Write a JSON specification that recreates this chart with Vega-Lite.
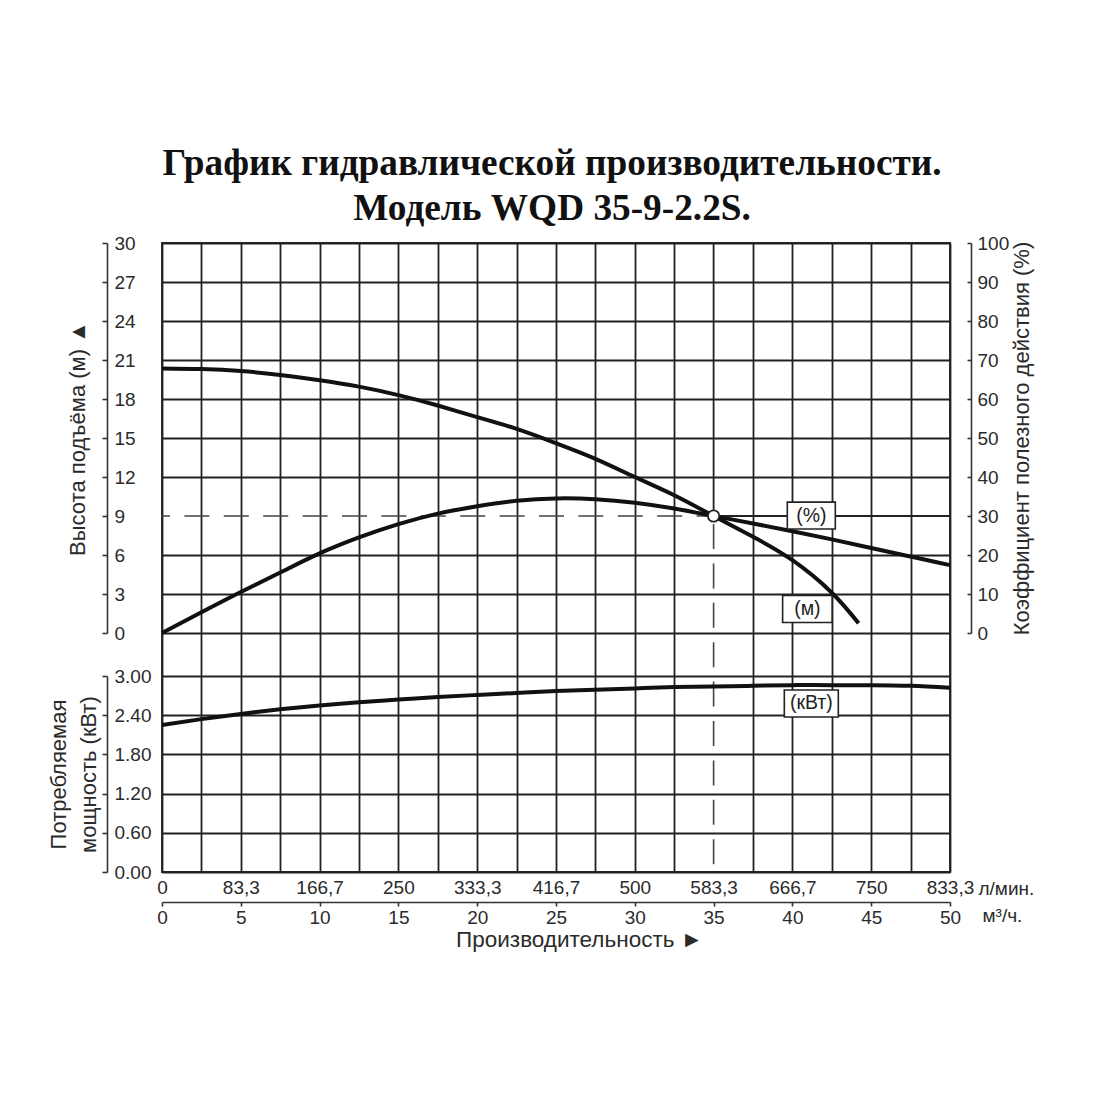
{
  "$schema": "https://vega.github.io/schema/vega-lite/v6.json",
  "width": 788,
  "height": 629,
  "autosize": {"type": "none"},
  "padding": {"left": 162, "top": 243, "right": 150, "bottom": 228},
  "background": "white",
  "title": {
    "text": ["График гидравлической производительности.", "Модель WQD 35-9-2.2S."],
    "font": "Liberation Serif",
    "fontSize": 37.3,
    "fontWeight": "bold",
    "color": "#111",
    "lineHeight": 45,
    "anchor": "middle",
    "offset": 6,
    "dx": -4
  },
  "config": {
    "view": {"stroke": "#222", "strokeWidth": 1.8},
    "axis": {
      "labelFont": "Liberation Sans",
      "titleFont": "Liberation Sans",
      "labelFontSize": 19,
      "titleFontSize": 22,
      "titleFontWeight": "normal",
      "labelColor": "#2b2b2b",
      "titleColor": "#2b2b2b",
      "domainColor": "#333",
      "domainWidth": 1.6,
      "tickColor": "#333",
      "tickWidth": 1.6,
      "gridColor": "#222",
      "gridWidth": 1.8,
      "gridOpacity": 1,
      "labelOverlap": false,
      "labelFlush": false
    }
  },
  "datasets": {
    "head": [
      {"Q": 0, "head": 20.35}, {"Q": 2.5, "head": 20.3}, {"Q": 5, "head": 20.15},
      {"Q": 7.5, "head": 19.85}, {"Q": 10, "head": 19.45}, {"Q": 12.5, "head": 18.95},
      {"Q": 15, "head": 18.3}, {"Q": 17.5, "head": 17.5}, {"Q": 20, "head": 16.6},
      {"Q": 22.5, "head": 15.7}, {"Q": 25, "head": 14.6}, {"Q": 27.5, "head": 13.4},
      {"Q": 30, "head": 12.0}, {"Q": 32.5, "head": 10.6}, {"Q": 35, "head": 9.0},
      {"Q": 37.5, "head": 7.4}, {"Q": 40, "head": 5.6}, {"Q": 42.5, "head": 3.1},
      {"Q": 44.2, "head": 0.75}
    ],
    "eff": [
      {"Q": 0, "eff": 0}, {"Q": 2.5, "eff": 5.3}, {"Q": 5, "eff": 10.5},
      {"Q": 7.5, "eff": 15.5}, {"Q": 10, "eff": 20.4}, {"Q": 12.5, "eff": 24.5},
      {"Q": 15, "eff": 27.9}, {"Q": 17.5, "eff": 30.6}, {"Q": 20, "eff": 32.5},
      {"Q": 22.5, "eff": 33.9}, {"Q": 25, "eff": 34.5}, {"Q": 27.5, "eff": 34.3},
      {"Q": 30, "eff": 33.4}, {"Q": 32.5, "eff": 31.9}, {"Q": 35, "eff": 30.0},
      {"Q": 37.5, "eff": 28.1}, {"Q": 40, "eff": 26.1}, {"Q": 42.5, "eff": 24.0},
      {"Q": 45, "eff": 21.8}, {"Q": 47.5, "eff": 19.6}, {"Q": 50, "eff": 17.4}
    ],
    "power": [
      {"Q": 0, "power": 2.25}, {"Q": 2.5, "power": 2.34}, {"Q": 5, "power": 2.42},
      {"Q": 7.5, "power": 2.49}, {"Q": 10, "power": 2.55}, {"Q": 12.5, "power": 2.6},
      {"Q": 15, "power": 2.64}, {"Q": 17.5, "power": 2.68}, {"Q": 20, "power": 2.71},
      {"Q": 22.5, "power": 2.74}, {"Q": 25, "power": 2.77}, {"Q": 27.5, "power": 2.79},
      {"Q": 30, "power": 2.81}, {"Q": 32.5, "power": 2.83}, {"Q": 35, "power": 2.84},
      {"Q": 37.5, "power": 2.85}, {"Q": 40, "power": 2.86}, {"Q": 42.5, "power": 2.86},
      {"Q": 45, "power": 2.86}, {"Q": 47.5, "power": 2.85}, {"Q": 50, "power": 2.82}
    ],
    "duty": [{"Q": 35, "head": 9, "eff": 30}],
    "tagHead": [{"Q": 40.95, "head": 1.85, "label": "(м)"}],
    "tagEff": [{"Q": 41.2, "eff": 30.1, "label": "(%)"}],
    "tagPower": [{"Q": 41.2, "power": 2.58, "label": "(кВт)"}]
  },
  "resolve": {
    "scale": {"y": "independent"},
    "axis": {"x": "independent", "y": "independent"}
  },
  "layer": [
    {
      "data": {"name": "duty"},
      "mark": {"type": "point", "opacity": 0},
      "encoding": {
        "x": {
          "field": "Q", "type": "quantitative",
          "scale": {"domain": [0, 50], "nice": false, "zero": false},
          "axis": {
            "orient": "bottom", "offset": 0,
            "values": [0, 2.5, 5, 7.5, 10, 12.5, 15, 17.5, 20, 22.5, 25, 27.5, 30, 32.5, 35, 37.5, 40, 42.5, 45, 47.5, 50],
            "grid": true,
            "gridColor": {"condition": {"test": "datum.value === 35", "value": "transparent"}, "value": "#222"},
            "labels": false, "ticks": false, "domain": false,
            "title": "Производительность ►", "titleFontSize": 22.5,
            "titleX": 417, "titleY": 67, "titleAlign": "center", "titleBaseline": "middle"
          }
        },
        "y": {"datum": 0, "type": "quantitative", "axis": null, "scale": {"domain": [0, 1]}}
      }
    },
    {
      "layer": [
        {
          "data": {"name": "head"},
          "mark": {"type": "line", "color": "#111", "strokeWidth": 4, "interpolate": "natural"},
          "encoding": {
            "x": {
              "field": "Q", "type": "quantitative",
              "scale": {"domain": [0, 50], "nice": false, "zero": false},
              "axis": {
                "orient": "bottom", "offset": 30,
                "values": [0, 5, 10, 15, 20, 25, 30, 35, 40, 45, 50],
                "grid": false, "domain": true, "ticks": true, "tickSize": 4,
                "labelPadding": 2,
                "title": "м³/ч.", "titleFontSize": 19,
                "titleX": 820, "titleY": 13, "titleAlign": "left", "titleBaseline": "middle"
              }
            },
            "y": {
              "field": "head", "type": "quantitative",
              "scale": {"domain": [0, 30], "range": [390, 0], "nice": false},
              "axis": {
                "orient": "left", "offset": 55,
                "values": [0, 3, 6, 9, 12, 15, 18, 21, 24, 27, 30],
                "grid": true,
                "gridColor": {"condition": {"test": "datum.value === 9", "value": "transparent"}, "value": "#222"},
                "tickSize": 5, "labelAlign": "left", "labelPadding": -12,
                "title": "Высота подъёма (м) ▲",
                "titleAngle": 270, "titleX": -30, "titleBaseline": "middle"
              }
            }
          }
        },
        {
          "data": {"name": "duty"},
          "mark": {"type": "rule", "color": "#222", "strokeWidth": 1.8},
          "encoding": {
            "x": {"field": "Q", "type": "quantitative", "scale": {"domain": [0, 50], "nice": false, "zero": false}},
            "y": {"field": "head", "type": "quantitative", "scale": {"domain": [0, 30], "range": [390, 0], "nice": false}},
            "y2": {"datum": 30}
          }
        },
        {
          "data": {"name": "duty"},
          "mark": {"type": "rule", "color": "#222", "strokeWidth": 1.8},
          "encoding": {
            "x": {"field": "Q", "type": "quantitative", "scale": {"domain": [0, 50], "nice": false, "zero": false}},
            "x2": {"datum": 50},
            "y": {"field": "head", "type": "quantitative", "scale": {"domain": [0, 30], "range": [390, 0], "nice": false}}
          }
        },
        {
          "data": {"name": "duty"},
          "mark": {"type": "rule", "color": "#444", "strokeWidth": 1.6, "strokeDash": [25, 14.4], "strokeDashOffset": 8},
          "encoding": {
            "x": {"field": "Q", "type": "quantitative", "scale": {"domain": [0, 50], "nice": false, "zero": false}},
            "x2": {"datum": 0},
            "y": {"field": "head", "type": "quantitative", "scale": {"domain": [0, 30], "range": [390, 0], "nice": false}}
          }
        },
        {
          "data": {"name": "duty"},
          "mark": {"type": "rule", "color": "#444", "strokeWidth": 1.6, "strokeDash": [25, 14.4], "strokeDashOffset": -8},
          "encoding": {
            "x": {"field": "Q", "type": "quantitative", "scale": {"domain": [0, 50], "nice": false, "zero": false}},
            "y": {"field": "head", "type": "quantitative", "scale": {"domain": [0, 30], "range": [390, 0], "nice": false}},
            "y2": {"value": "height"}
          }
        },
        {
          "data": {"name": "tagHead"},
          "mark": {"type": "point", "shape": "M-1,-0.55L1,-0.55L1,0.55L-1,0.55Z", "size": 2450, "filled": true, "fill": "white", "stroke": "#222", "strokeWidth": 1.6, "opacity": 1},
          "encoding": {
            "x": {"field": "Q", "type": "quantitative", "scale": {"domain": [0, 50], "nice": false, "zero": false}},
            "y": {"field": "head", "type": "quantitative", "scale": {"domain": [0, 30], "range": [390, 0], "nice": false}}
          }
        },
        {
          "data": {"name": "tagHead"},
          "mark": {"type": "text", "font": "Liberation Sans", "fontSize": 19.5, "color": "#222"},
          "encoding": {
            "x": {"field": "Q", "type": "quantitative", "scale": {"domain": [0, 50], "nice": false, "zero": false}},
            "y": {"field": "head", "type": "quantitative", "scale": {"domain": [0, 30], "range": [390, 0], "nice": false}},
            "text": {"field": "label"}
          }
        }
      ]
    },
    {
      "layer": [
        {
          "data": {"name": "power"},
          "mark": {"type": "line", "color": "#111", "strokeWidth": 4, "interpolate": "natural"},
          "encoding": {
            "x": {"field": "Q", "type": "quantitative", "axis": null, "scale": {"domain": [0, 50], "nice": false, "zero": false}},
            "y": {
              "field": "power", "type": "quantitative",
              "scale": {"domain": [0, 3], "range": [629, 433], "nice": false},
              "axis": {
                "orient": "left", "offset": 55,
                "values": [0, 0.6, 1.2, 1.8, 2.4, 3.0],
                "format": ".2f",
                "grid": true,
                "tickSize": 5, "labelAlign": "left", "labelPadding": -12,
                "title": ["Потребляемая", "мощность (кВт)"],
                "titleLineHeight": 30,
                "titleAngle": 270, "titleX": -49, "titleBaseline": "middle"
              }
            }
          }
        },
        {
          "data": {"name": "tagPower"},
          "mark": {"type": "point", "shape": "M-1,-0.5L1,-0.5L1,0.5L-1,0.5Z", "size": 2916, "filled": true, "fill": "white", "stroke": "#222", "strokeWidth": 1.6, "opacity": 1},
          "encoding": {
            "x": {"field": "Q", "type": "quantitative", "axis": null, "scale": {"domain": [0, 50], "nice": false, "zero": false}},
            "y": {"field": "power", "type": "quantitative", "scale": {"domain": [0, 3], "range": [629, 433], "nice": false}}
          }
        },
        {
          "data": {"name": "tagPower"},
          "mark": {"type": "text", "font": "Liberation Sans", "fontSize": 19.5, "color": "#222"},
          "encoding": {
            "x": {"field": "Q", "type": "quantitative", "axis": null, "scale": {"domain": [0, 50], "nice": false, "zero": false}},
            "y": {"field": "power", "type": "quantitative", "scale": {"domain": [0, 3], "range": [629, 433], "nice": false}},
            "text": {"field": "label"}
          }
        }
      ]
    },
    {
      "layer": [
        {
          "data": {"name": "eff"},
          "mark": {"type": "line", "color": "#111", "strokeWidth": 4, "interpolate": "natural"},
          "encoding": {
            "x": {
              "field": "Q", "type": "quantitative",
              "scale": {"domain": [0, 50], "nice": false, "zero": false},
              "axis": {
                "orient": "bottom", "offset": 30,
                "values": [0, 5, 10, 15, 20, 25, 30, 35, 40, 45, 50],
                "labelExpr": "replace(format(datum.value * 50 / 3, '.1~f'), '.', ',')",
                "grid": false, "domain": false, "ticks": false,
                "labelBaseline": "bottom", "labelPadding": -5,
                "title": "л/мин.", "titleFontSize": 19,
                "titleX": 816, "titleY": -14, "titleAlign": "left", "titleBaseline": "middle"
              }
            },
            "y": {
              "field": "eff", "type": "quantitative",
              "scale": {"domain": [0, 100], "range": [390, 0], "nice": false},
              "axis": {
                "orient": "right", "offset": 21,
                "values": [0, 10, 20, 30, 40, 50, 60, 70, 80, 90, 100],
                "grid": false,
                "tickSize": -4, "labelAlign": "left", "labelPadding": 10,
                "title": "Коэффициент полезного действия (%)",
                "titleAngle": 270, "titleX": 50, "titleBaseline": "middle"
              }
            }
          }
        },
        {
          "data": {"name": "tagEff"},
          "mark": {"type": "point", "shape": "M-1,-0.56L1,-0.56L1,0.56L-1,0.56Z", "size": 2304, "filled": true, "fill": "white", "stroke": "#222", "strokeWidth": 1.6, "opacity": 1},
          "encoding": {
            "x": {"field": "Q", "type": "quantitative", "scale": {"domain": [0, 50], "nice": false, "zero": false}},
            "y": {"field": "eff", "type": "quantitative", "scale": {"domain": [0, 100], "range": [390, 0], "nice": false}}
          }
        },
        {
          "data": {"name": "tagEff"},
          "mark": {"type": "text", "font": "Liberation Sans", "fontSize": 19.5, "color": "#222"},
          "encoding": {
            "x": {"field": "Q", "type": "quantitative", "scale": {"domain": [0, 50], "nice": false, "zero": false}},
            "y": {"field": "eff", "type": "quantitative", "scale": {"domain": [0, 100], "range": [390, 0], "nice": false}},
            "text": {"field": "label"}
          }
        },
        {
          "data": {"name": "duty"},
          "mark": {"type": "point", "shape": "circle", "size": 130, "filled": true, "fill": "white", "stroke": "#222", "strokeWidth": 1.8, "opacity": 1},
          "encoding": {
            "x": {"field": "Q", "type": "quantitative", "scale": {"domain": [0, 50], "nice": false, "zero": false}},
            "y": {"field": "eff", "type": "quantitative", "scale": {"domain": [0, 100], "range": [390, 0], "nice": false}}
          }
        }
      ]
    }
  ]
}
